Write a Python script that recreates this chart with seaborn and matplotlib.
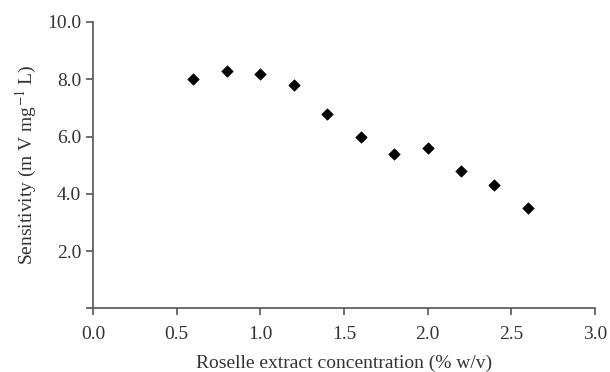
import matplotlib
matplotlib.use("Agg")
import matplotlib.pyplot as plt
import pandas as pd
import seaborn as sns

# Roselle extract concentration (% w/v) vs sensitivity (mV mg^-1 L)
concentration = [0.6, 0.8, 1.0, 1.2, 1.4, 1.6, 1.8, 2.0, 2.2, 2.4, 2.6]
sensitivity = [8.0, 8.3, 8.2, 7.8, 6.8, 6.0, 5.4, 5.6, 4.8, 4.3, 3.5]

x_ticks = [0.0, 0.5, 1.0, 1.5, 2.0, 2.5, 3.0]
y_ticks = [0.0, 2.0, 4.0, 6.0, 8.0, 10.0]
y_labels = ["", "2.0", "4.0", "6.0", "8.0", "10.0"]

sns.set_style("ticks")
plt.rcParams['font.family'] = ['Liberation Serif', 'DejaVu Serif']
plt.rcParams['mathtext.fontset'] = 'stix'

df = pd.DataFrame({"conc": concentration, "sens": sensitivity})

fig = plt.figure(figsize=(6.1, 3.72), dpi=100)
ax = fig.add_axes([0.1525, 0.171, 0.8225, 0.770])

sns.scatterplot(data=df, x="conc", y="sens", marker="D", s=34,
                color="black", edgecolor="black", ax=ax, zorder=3)

ax.set_xlim(0, 3.0)
ax.set_ylim(0, 10.0)
ax.set_xticks(x_ticks)
ax.set_xticklabels([f"{t:.1f}" for t in x_ticks])
ax.set_yticks(y_ticks)
ax.set_yticklabels(y_labels)

for side in ["top", "right"]:
    ax.spines[side].set_visible(False)
for side in ["left", "bottom"]:
    ax.spines[side].set_color("#555555")
    ax.spines[side].set_linewidth(1.2)
ax.tick_params(axis="both", direction="out", length=5, width=1.2,
               color="#555555", labelsize=14, labelcolor="#333333")
ax.tick_params(axis="x", pad=8)

ax.set_xlabel("Roselle extract concentration (% w/v)", fontsize=14,
              color="#333333", labelpad=8)
ax.set_ylabel(r"Sensitivity (m V mg$^{-1}$ L)", fontsize=14,
              color="#333333", labelpad=6)

fig.savefig("out.png", dpi=100)
